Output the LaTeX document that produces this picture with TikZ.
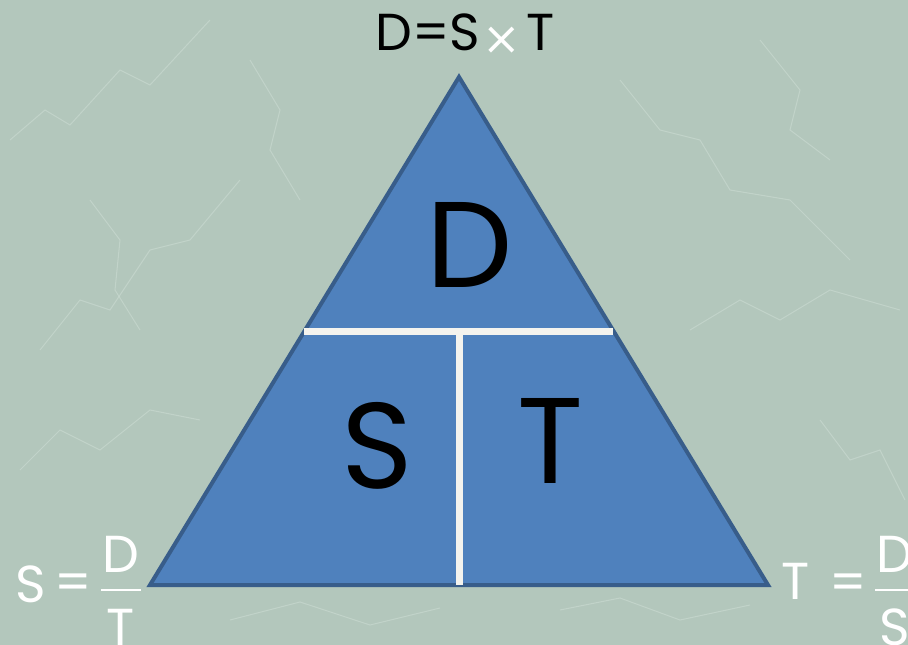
\documentclass[tikz,border=0pt]{standalone}
\usepackage{fontspec}
\setmainfont{Poppins}
\newfontfamily\symfont{DejaVu Sans}
\begin{document}
\begin{tikzpicture}[x=1pt,y=-1pt,
  bg/.style={fill=bgcol},
  vein/.style={draw=veincol, line width=1pt, opacity=0.45},
  tri/.style={fill=triblue, draw=triedge, line width=4pt, line join=miter},
  divider/.style={draw=divwhite, line width=7pt},
  fracbar/.style={draw=white, line width=1.5pt},
  bigletter/.style={font=\fontsize{122}{122}\selectfont, text=black, anchor=base, inner sep=0pt},
  formula/.style={font=\fontsize{52}{52}\selectfont, text=white, anchor=base, inner sep=0pt},
  toplabel/.style={font=\fontsize{52}{52}\selectfont, text=black, anchor=base, inner sep=0pt}]
\definecolor{bgcol}{HTML}{B3C7BC}
\definecolor{veincol}{HTML}{D3E2DA}
\definecolor{triblue}{HTML}{4F81BD}
\definecolor{triedge}{HTML}{385D8A}
\definecolor{divwhite}{HTML}{F4F3EE}
% canvas
\useasboundingbox (0,0) rectangle (908,645);
\clip (0,0) rectangle (908,645);
\fill[bg] (0,0) rectangle (908,645);
% faint marble veins
\draw[vein] (10,140) -- (45,110) -- (70,125) -- (120,70) -- (150,85) -- (210,20);
\draw[vein] (40,350) -- (80,300) -- (110,310) -- (150,250) -- (190,240) -- (240,180);
\draw[vein] (90,200) -- (120,240) -- (115,290) -- (140,330);
\draw[vein] (250,60) -- (280,110) -- (270,150) -- (300,200);
\draw[vein] (620,80) -- (660,130) -- (700,140) -- (730,190) -- (790,200) -- (850,260);
\draw[vein] (760,40) -- (800,90) -- (790,130) -- (830,160);
\draw[vein] (690,330) -- (740,300) -- (780,320) -- (830,290) -- (900,310);
\draw[vein] (20,470) -- (60,430) -- (100,450) -- (150,410) -- (200,420);
\draw[vein] (820,420) -- (850,460) -- (880,450) -- (905,500);
\draw[vein] (560,610) -- (620,598) -- (680,620) -- (750,605);
\draw[vein] (230,620) -- (300,602) -- (370,625) -- (440,608);
% triangle
\coordinate (apex) at (459,77);
\coordinate (bl) at (150,585);
\coordinate (br) at (768,585);
\draw[tri] (apex) -- (bl) -- (br) -- cycle;
% dividers
\coordinate (hl) at (304,331);
\coordinate (hr) at (613,331);
\coordinate (vt) at (459.5,331);
\coordinate (vb) at (459.5,585);
\draw[divider] (hl) -- (hr);
\draw[divider] (vt) -- (vb);
% letters in the triangle
\node[bigletter] (dist) at (470,287) {D};
\node[bigletter] (speed) at (377,488) {S};
\node[bigletter] (time) at (550,483) {T};
% top formula
\node[toplabel] (dst) at (428,50) {D=S};
\node[anchor=base, inner sep=0pt, text=white, font=\symfont\fontsize{46}{46}\selectfont] (times) at (502,54) {×};
\node[toplabel] (tt) at (541,50) {T};
% S = D/T
\node[formula] (sl) at (31,602) {S};
\node[formula] (seq) at (73,600) {=};
\node[formula] (sd) at (121,572) {D};
\coordinate (sbl) at (101,590);
\coordinate (sbr) at (141,590);
\draw[fracbar] (sbl) -- (sbr);
\node[formula] (st) at (121,645) {T};
% T = D/S
\node[formula] (tl) at (796,599) {T};
\node[formula] (teq) at (848,600) {=};
\node[formula] (td) at (895,572) {D};
\coordinate (tbl) at (875,590);
\coordinate (tbr) at (915,590);
\draw[fracbar] (tbl) -- (tbr);
\node[formula] (ts) at (895,645) {S};
\end{tikzpicture}
\end{document}
